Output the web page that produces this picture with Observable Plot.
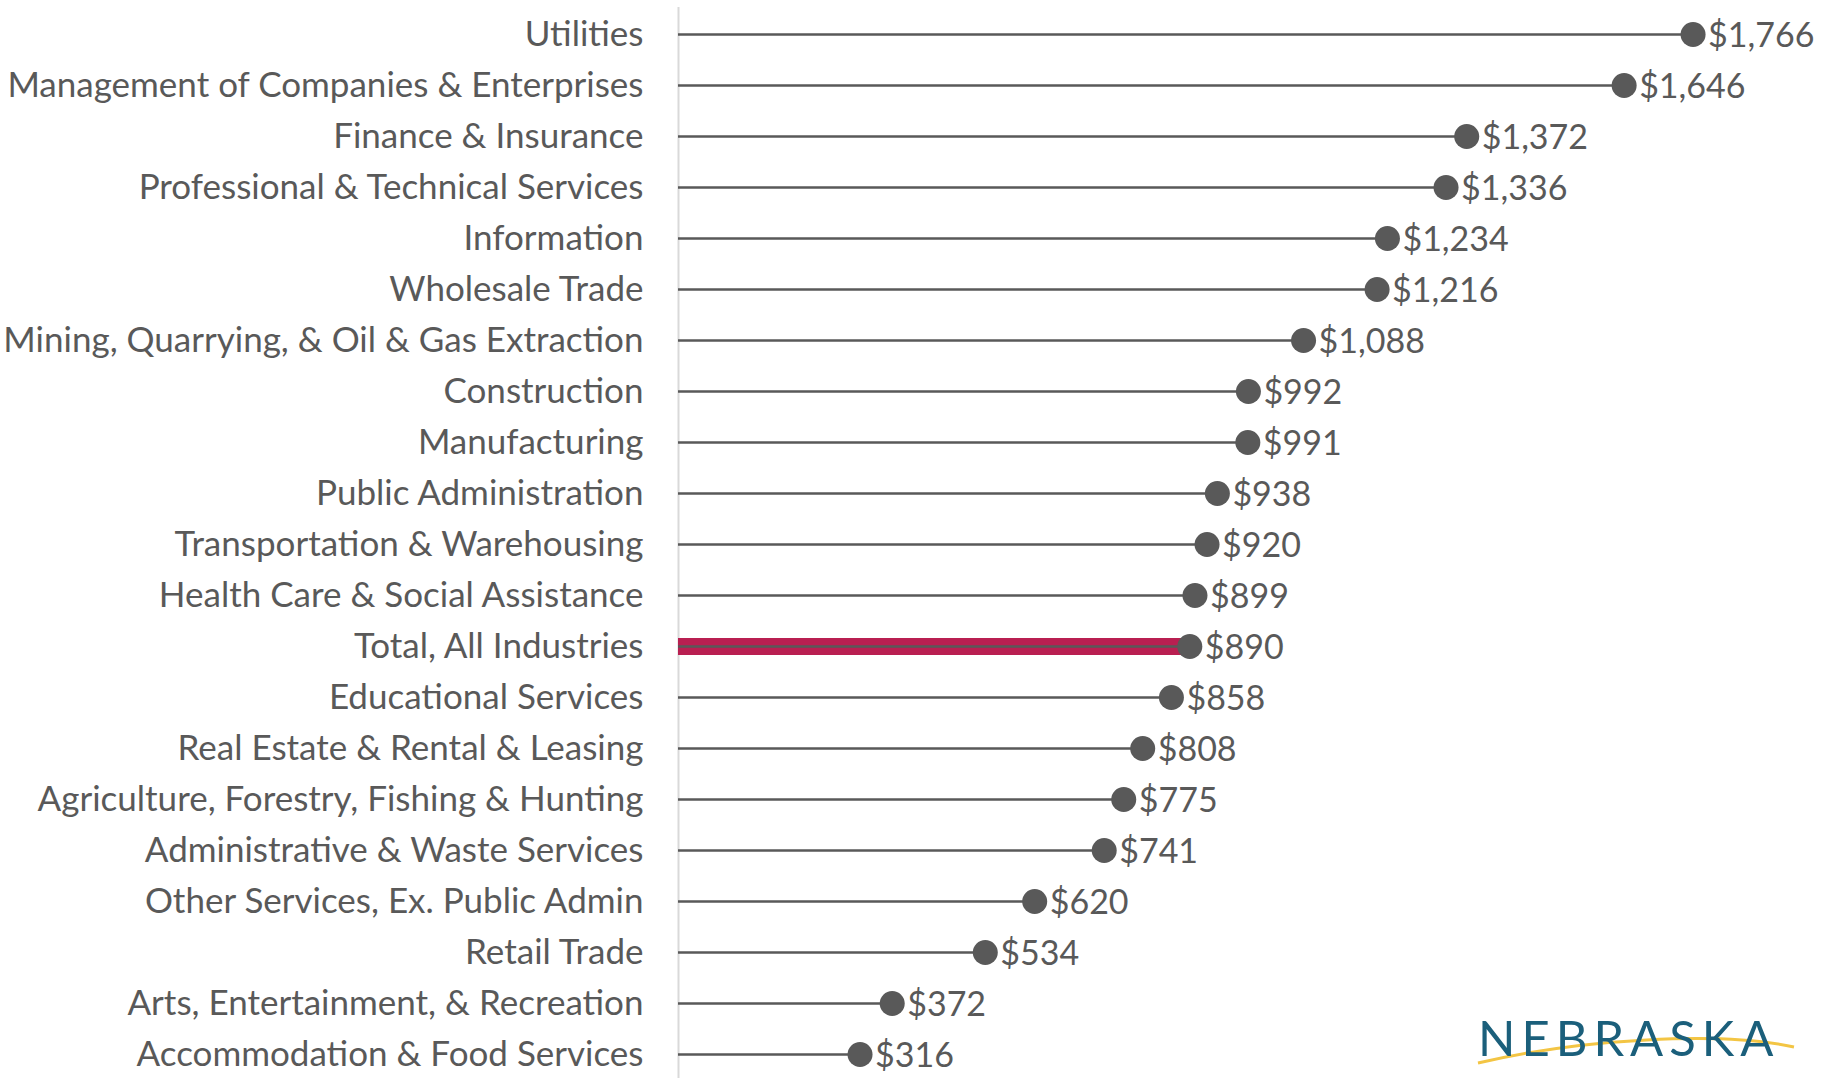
<!DOCTYPE html>
<html>
<head>
<meta charset="utf-8">
<script src="https://cdn.jsdelivr.net/npm/d3@7"></script>
<script src="https://cdn.jsdelivr.net/npm/@observablehq/plot@0.6"></script>
<style>
  html, body { margin: 0; padding: 0; background: #ffffff; }
  #wrap { position: relative; width: 1831px; height: 1078px; overflow: hidden; }
  #logo { position: absolute; left: 1470px; top: 1005px; width: 340px; height: 70px; }
  #logo .word { position: absolute; left: 8px; top: 8px; font-family: "Lato", sans-serif; font-weight: 400;
    font-size: 49px; letter-spacing: 6px; color: #1b5f7b; line-height: 1; }
  #logo svg { position: absolute; left: 0; top: 0; }
</style>
</head>
<body>
<div id="wrap">
  <div id="chart"></div>
  <div id="logo">
    <svg width="340" height="70"><path d="M8,58 C110,34 250,26 324,42" fill="none" stroke="#f3c544" stroke-width="3"/></svg>
    <div class="word">NEBRASKA</div>
  </div>
</div>
<script>
const industries = [
  "Utilities",
  "Management of Companies & Enterprises",
  "Finance & Insurance",
  "Professional & Technical Services",
  "Information",
  "Wholesale Trade",
  "Mining, Quarrying, & Oil & Gas Extraction",
  "Construction",
  "Manufacturing",
  "Public Administration",
  "Transportation & Warehousing",
  "Health Care & Social Assistance",
  "Total, All Industries",
  "Educational Services",
  "Real Estate & Rental & Leasing",
  "Agriculture, Forestry, Fishing & Hunting",
  "Administrative & Waste Services",
  "Other Services, Ex. Public Admin",
  "Retail Trade",
  "Arts, Entertainment, & Recreation",
  "Accommodation & Food Services"
];
const wages = [1766, 1646, 1372, 1336, 1234, 1216, 1088, 992, 991, 938, 920, 899, 890, 858, 808, 775, 741, 620, 534, 372, 316];
const highlight = "Total, All Industries";

const data = industries.map((name, i) => ({name, wage: wages[i]}));
const fmt = v => "$" + d3.format(",")(v);
const font = "Lato, 'Open Sans', sans-serif";

const chart = Plot.plot({
  width: 1831,
  height: 1078,
  marginLeft: 678,
  marginRight: 4,
  marginTop: 7,
  marginBottom: 0,
  style: {fontFamily: font, color: "#595959", background: "white"},
  x: {domain: [0, 2000], axis: null},
  y: {type: "point", domain: industries, range: [32, 1056], padding: 0, axis: null},
  marks: [
    Plot.ruleX([0], {stroke: "#d9d9d9", strokeWidth: 2}),
    Plot.ruleY(data.filter(d => d.name === highlight), {x1: 0, x2: "wage", y: "name", stroke: "#b91f51", strokeWidth: 17}),
    Plot.ruleY(data, {x1: 0, x2: "wage", y: "name", stroke: "#595959", strokeWidth: 2.5}),
    Plot.dot(data, {x: "wage", y: "name", r: 12.5, fill: "#595959"}),
    Plot.text(data, {x: "wage", y: "name", text: d => fmt(d.wage), dx: 15, dy: 2, textAnchor: "start", fontSize: 34, fill: "#595959"}),
    Plot.text(data, {x: 0, y: "name", text: "name", dx: -35, textAnchor: "end", fontSize: 35, fill: "#595959"})
  ]
});
document.getElementById("chart").appendChild(chart);
</script>
</body>
</html>
